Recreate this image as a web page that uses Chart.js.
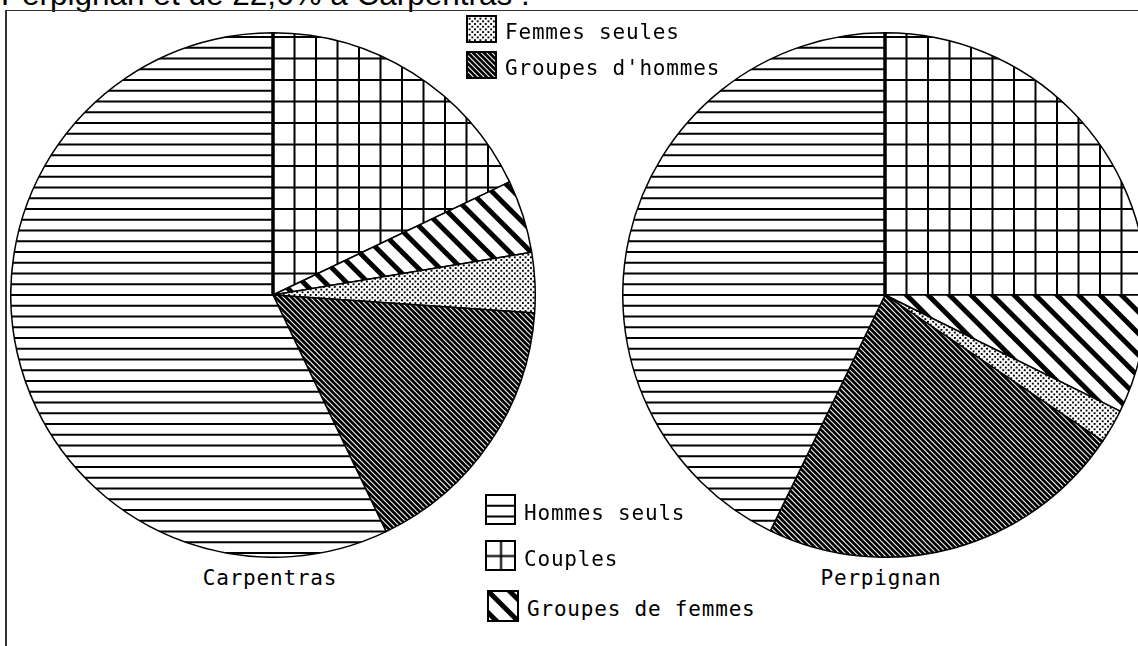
<!DOCTYPE html>
<html>
<head>
<meta charset="utf-8">
<script src="https://cdn.jsdelivr.net/npm/chart.js@4.4.0/dist/chart.umd.min.js"></script>
<style>
  html, body { margin:0; padding:0; width:1138px; height:646px; overflow:hidden; background:#fff; }
  #title { position:absolute; left:1px; top:-22px; font:31.5px "Liberation Sans", Arial, sans-serif; line-height:32px; white-space:nowrap; color:#000; }
  #frame { position:absolute; left:5px; top:10px; width:1200px; height:700px; border-left:2px solid #333; border-top:1px solid #333; }
  canvas.pie { position:absolute; top:32px; }
  .lbl, .leg { position:absolute; font:21px "DejaVu Sans Mono", monospace; letter-spacing:0.8px; color:#000; white-space:nowrap; }
  .lbl { transform:translateX(-50%); }
  .leg { display:flex; align-items:center; }
  .leg span { position:relative; top:3px; }
  .leg canvas { margin-right:8px; }
</style>
</head>
<body>
<div id="title">Perpignan et de 22,6% à Carpentras .</div>
<div id="frame"></div>
<canvas id="pie0" class="pie" width="526" height="526" style="left:10px"></canvas>
<canvas id="pie1" class="pie" width="526" height="526" style="left:622px"></canvas>
<div id="labels"></div>
<div id="legend"></div>
<script>
// slices, clockwise from 12 o'clock
const categories = ['Couples', 'Groupes de femmes', 'Femmes seules', "Groupes d'hommes", 'Hommes seuls'];
const carpentras = [17.9, 4.5, 3.7, 16.8, 57.1];
const perpignan = [25.0, 7.3, 2.1, 22.8, 42.8];
const towns = ['Carpentras', 'Perpignan'];
const townValues = [carpentras, perpignan];

// pattern tiles (old Mac style fills)
const T = 43;
function tile(draw) {
  const c = document.createElement('canvas');
  c.width = T; c.height = T;
  const g = c.getContext('2d');
  g.fillStyle = '#fff'; g.fillRect(0, 0, T, T);
  g.fillStyle = '#000'; g.strokeStyle = '#000';
  draw(g);
  return c;
}
function diag(g, n, w) {
  g.lineWidth = w;
  const p = T / n;
  for (let k = -n - 1; k <= n + 1; k++) {
    const c = k * p;
    g.beginPath(); g.moveTo(c - T, -T); g.lineTo(c + 2 * T, 2 * T); g.stroke();
  }
}
const tiles = [
  tile(g => { for (let k = 0; k < 2; k++) { g.fillRect(k * T / 2, 0, 2, T); g.fillRect(0, k * T / 2, T, 2); } }),
  tile(g => diag(g, 2, 5)),
  tile(g => { for (let i = 0; i < 16; i++) for (let j = 0; j < 16; j++) if ((i + j) % 2 === 0) g.fillRect(i * T / 16, j * T / 16, 1.9, 1.9); }),
  tile(g => diag(g, 8, 2.8)),
  tile(g => { for (let k = 0; k < 4; k++) g.fillRect(0, k * T / 4, T, 2); })
];

function patternsFor(ctx, ox, oy) {
  return tiles.map(t => {
    const p = ctx.createPattern(t, 'repeat');
    p.setTransform(new DOMMatrix().translate(ox, oy));
    return p;
  });
}

// thicker edge at 12 o'clock
const edgePlugin = {
  id: 'startEdge',
  afterDatasetsDraw(chart) {
    const arc = chart.getDatasetMeta(0).data[0];
    const { x, y, startAngle, outerRadius } = arc.getProps(['x', 'y', 'startAngle', 'outerRadius'], true);
    const ctx = chart.ctx;
    ctx.save();
    ctx.strokeStyle = '#000'; ctx.lineWidth = 3.5;
    ctx.beginPath();
    ctx.moveTo(x, y);
    ctx.lineTo(x + Math.cos(startAngle) * outerRadius, y + Math.sin(startAngle) * outerRadius);
    ctx.stroke();
    ctx.restore();
  }
};

townValues.forEach((vals, i) => {
  const el = document.getElementById('pie' + i);
  const ctx = el.getContext('2d');
  new Chart(el, {
    type: 'pie',
    data: {
      labels: categories,
      datasets: [{ data: vals, backgroundColor: patternsFor(ctx, 262, 262), borderColor: '#000', borderWidth: 1.5 }]
    },
    options: {
      responsive: false,
      animation: false,
      layout: { padding: 0 },
      plugins: { legend: { display: false }, tooltip: { enabled: false } }
    },
    plugins: [edgePlugin]
  });
});

// town names under the pies
const labelPos = [[270, 566], [881, 566]];
towns.forEach((t, i) => {
  const d = document.createElement('div');
  d.className = 'lbl';
  d.textContent = t;
  d.style.left = labelPos[i][0] + 'px';
  d.style.top = labelPos[i][1] + 'px';
  document.getElementById('labels').appendChild(d);
});

// legend, split in two blocks
const legendLayout = [
  { cat: 2, x: 466, y: 15, w: 31, h: 28 },
  { cat: 3, x: 466, y: 51, w: 31, h: 28 },
  { cat: 4, x: 485, y: 494, w: 31, h: 31 },
  { cat: 0, x: 485, y: 540, w: 31, h: 31 },
  { cat: 1, x: 487, y: 590, w: 32, h: 32 }
];
legendLayout.forEach(l => {
  const row = document.createElement('div');
  row.className = 'leg';
  row.style.left = l.x + 'px';
  row.style.top = l.y + 'px';
  const c = document.createElement('canvas');
  c.width = l.w; c.height = l.h;
  const g = c.getContext('2d');
  const p = g.createPattern(tiles[l.cat], 'repeat');
  p.setTransform(new DOMMatrix().translate(l.cat === 0 ? 15 - T / 2 : 0, l.cat === 0 ? 15 - T / 2 : 0));
  g.fillStyle = p;
  g.fillRect(0, 0, l.w, l.h);
  g.strokeStyle = '#000'; g.lineWidth = 2;
  g.strokeRect(1, 1, l.w - 2, l.h - 2);
  const s = document.createElement('span');
  s.textContent = categories[l.cat];
  row.appendChild(c); row.appendChild(s);
  document.getElementById('legend').appendChild(row);
});
</script>
</body>
</html>
